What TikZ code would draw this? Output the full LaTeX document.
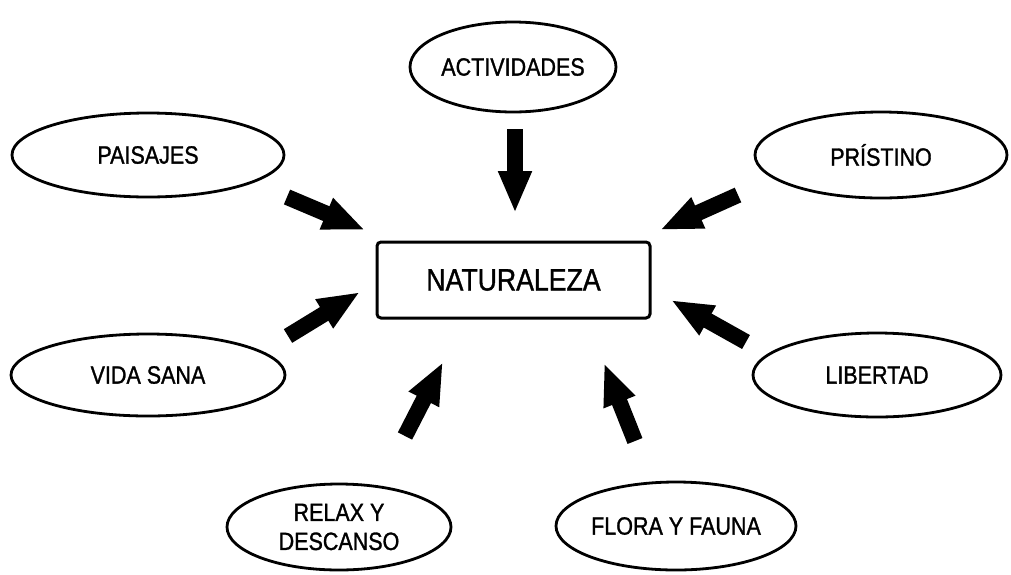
\documentclass[tikz,border=0pt]{standalone}
\usepackage{fontspec}
\setmainfont{Liberation Sans}[FakeStretch=0.86,FakeBold=1.2]
\usetikzlibrary{shapes.geometric,arrows.meta}
\begin{document}
\begin{tikzpicture}[x=1pt,y=-1pt,
  idea/.style={draw=black,line width=2.8pt,ellipse,inner sep=0pt,
    font=\fontsize{25}{29}\selectfont,align=center},
  core/.style={draw=black,line width=3pt,rounded corners=4pt,inner sep=0pt,
    minimum width=273pt,minimum height=76pt,font=\fontsize{31}{36}\selectfont},
  fat/.style={line width=16pt,-{Triangle[length=42pt,width=31pt]}}]
  \useasboundingbox (0,0) rectangle (1011,574);

  % central concept
  \node[core] (nat) at (513.5,280) {NATURALEZA};

  % surrounding ideas
  \node[idea,minimum width=206pt,minimum height=90pt] (act) at (513,67) {ACTIVIDADES};
  \node[idea,minimum width=272pt,minimum height=84pt] (pai) at (148,155) {PAISAJES};
  \node[idea,minimum width=252pt,minimum height=86pt] (pri) at (881,155) {PRÍSTINO};
  \node[idea,minimum width=274pt,minimum height=82pt] (vid) at (148,375) {VIDA SANA};
  \node[idea,minimum width=248pt,minimum height=84pt] (lib) at (877,375) {LIBERTAD};
  \node[idea,minimum width=224pt,minimum height=86pt] (rel) at (339,527) {RELAX Y\\DESCANSO};
  \node[idea,minimum width=240pt,minimum height=88pt] (flo) at (676,526) {FLORA Y FAUNA};

  % block arrows pointing at the centre
  \coordinate (actT) at (515,129);  \coordinate (actH) at (515,213);
  \coordinate (paiT) at (287,197);  \coordinate (paiH) at (365,230);
  \coordinate (priT) at (738,195);  \coordinate (priH) at (660,230);
  \coordinate (vidT) at (288,336);  \coordinate (vidH) at (360,292);
  \coordinate (libT) at (746,342);  \coordinate (libH) at (671,300);
  \coordinate (relT) at (405,436);  \coordinate (relH) at (443,362);
  \coordinate (floT) at (635,441);  \coordinate (floH) at (604,363);

  \draw[fat] (actT) -- (actH);
  \draw[fat] (paiT) -- (paiH);
  \draw[fat] (priT) -- (priH);
  \draw[fat] (vidT) -- (vidH);
  \draw[fat] (libT) -- (libH);
  \draw[fat] (relT) -- (relH);
  \draw[fat] (floT) -- (floH);
\end{tikzpicture}
\end{document}
